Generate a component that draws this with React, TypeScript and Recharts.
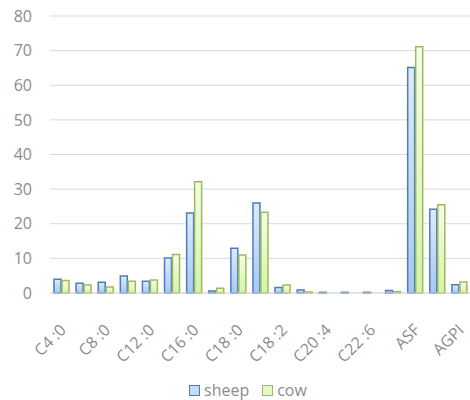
import React from 'react';
import { BarChart, Bar, XAxis, YAxis, CartesianGrid, Legend } from 'recharts';

const categories = ["C4 :0","C6 :0","C8 :0","C10 :0","C12 :0","C14 :0","C16 :0","C16 :1","C18 :0","C18 :1","C18 :2","C18 :3","C20 :4","C20 :5","C22 :6","Autres","ASF","AGMI","AGPI"];
const sheep = [4.0,2.8,3.1,4.9,3.4,10.1,23.1,0.6,12.9,26.0,1.6,0.9,0.2,0.2,0.2,0.7,65.1,24.2,2.4];
const cow = [3.6,2.3,1.7,3.4,3.75,11.1,32.1,1.4,11.0,23.3,2.3,0.3,0,0,0,0.4,71.1,25.5,3.2];
const yTicks = [0,10,20,30,40,50,60,70,80];
const seriesNames = ["sheep","cow"];

const data = categories.map((c, i) => ({ name: c, sheep: sheep[i], cow: cow[i] }));

const FONT = "'Open Sans', 'Noto Sans', sans-serif";
const TEXT = "#8c8c8c";

const XTick = (props: any) => {
  const { x, y, payload } = props;
  return (
    <g transform={`translate(${x + 6},${y + 38})`}>
      <text textAnchor="end" transform="rotate(-45)" fill={TEXT} fontSize={16} fontFamily={FONT}>
        {payload.value}
      </text>
    </g>
  );
};

const LegendContent = () => (
  <div style={{ display: 'flex', alignItems: 'center', paddingLeft: 189, height: 20, fontFamily: FONT, fontSize: 16, color: TEXT }}>
    <span style={{ display: 'inline-block', width: 9, height: 9, border: '1.5px solid #4a7ebb', background: '#c6dbf8', marginRight: 4 }} />
    <span style={{ marginRight: 13 }}>{seriesNames[0]}</span>
    <span style={{ display: 'inline-block', width: 9, height: 9, border: '1.5px solid #9bbb59', background: '#e6f8c8', marginRight: 4 }} />
    <span>{seriesNames[1]}</span>
  </div>
);

export default function App() {
  return (
    <div>
      <style>{"body{margin:0;background:#fff}"}</style>
      <BarChart width={470} height={400} data={data} margin={{ top: 16, right: 0, left: 0, bottom: 0 }} barSize={7} barGap={1}>
        <defs>
          <linearGradient id="gSheep" x1="0" y1="0" x2="0" y2="1">
            <stop offset="0%" stopColor="#dfeafc" />
            <stop offset="100%" stopColor="#a9c7f3" />
          </linearGradient>
          <linearGradient id="gCow" x1="0" y1="0" x2="0" y2="1">
            <stop offset="0%" stopColor="#f6fde9" />
            <stop offset="100%" stopColor="#d6f3a8" />
          </linearGradient>
        </defs>
        <CartesianGrid vertical={false} stroke="#d9d9d9" strokeWidth={1} />
        <XAxis dataKey="name" interval={1} height={87} tick={<XTick />} tickLine={false} tickSize={0} tickMargin={0} axisLine={{ stroke: '#d9d9d9' }} />
        <YAxis width={50} domain={[0, 80]} ticks={yTicks} axisLine={false} tickLine={false} tickSize={0} tickMargin={18}
          tick={{ fill: TEXT, fontSize: 16, fontFamily: FONT }} />
        <Legend verticalAlign="bottom" height={20} content={<LegendContent />} />
        <Bar dataKey="sheep" name={seriesNames[0]} fill="url(#gSheep)" stroke="#4a7ebb" strokeWidth={1.5} isAnimationActive={false} />
        <Bar dataKey="cow" name={seriesNames[1]} fill="url(#gCow)" stroke="#9bbb59" strokeWidth={1.5} isAnimationActive={false} />
      </BarChart>
    </div>
  );
}
